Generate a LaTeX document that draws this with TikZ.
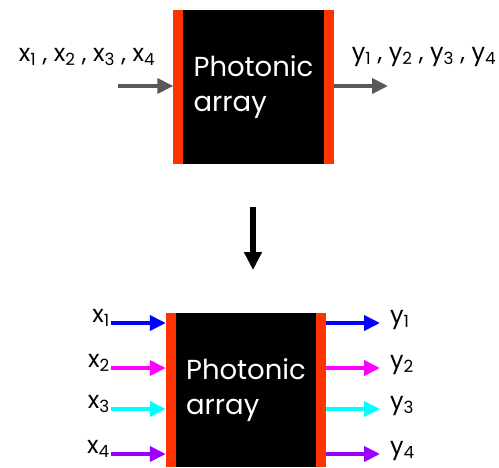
\documentclass[tikz,border=0pt]{standalone}
\usepackage{fontspec}
\setmainfont{Poppins}
\usetikzlibrary{arrows.meta}
\definecolor{barred}{RGB}{255,51,0}
\definecolor{arrowgray}{RGB}{89,89,89}
\definecolor{sigblue}{RGB}{0,0,255}
\definecolor{sigmagenta}{RGB}{255,0,255}
\definecolor{sigcyan}{RGB}{0,255,255}
\definecolor{sigpurple}{RGB}{153,0,255}
\begin{document}
\begin{tikzpicture}[x=1pt,y=-1pt,
    chip/.style={fill=black, text=white, minimum width=160pt, minimum height=154pt,
      inner sep=0pt, align=left, font=\fontsize{27.5}{35}\selectfont},
    sig/.style={line width=3.7pt, -{Triangle[length=16pt,width=15pt]}},
    lbl/.style={inner sep=0pt, font=\fontsize{24}{28}\selectfont}]
    \useasboundingbox (0,0) rectangle (499,467);

    % Top: one bundle in, one bundle out
    \node[chip] (topchip) at (253.5,87) {Photonic\\array};
    \fill[barred] (topchip.north west) rectangle ([xshift=10pt]topchip.south west);
    \fill[barred] ([xshift=-10pt]topchip.north east) rectangle (topchip.south east);
    \coordinate (topin) at (118,86);
    \coordinate (topout) at (388,86);
    \draw[sig, arrowgray] (topin) -- (topin -| topchip.west);
    \draw[sig, arrowgray] (topin -| topchip.east) -- (topout);
    \node[lbl] (topx) at (87,57) {x\textsubscript{1} , x\textsubscript{2} , x\textsubscript{3} , x\textsubscript{4}};
    \node[lbl] (topy) at (424,57) {y\textsubscript{1} , y\textsubscript{2} , y\textsubscript{3} , y\textsubscript{4}};

    % Down arrow
    \coordinate (downtop) at (253,207);
    \coordinate (downbot) at (253,270);
    \draw[line width=6pt, -{Triangle[length=18pt,width=17pt]}] (downtop) -- (downbot);

    % Bottom: one line per signal
    \node[chip] (botchip) at (246,390) {Photonic\\array};
    \fill[barred] (botchip.north west) rectangle ([xshift=10pt]botchip.south west);
    \fill[barred] ([xshift=-10pt]botchip.north east) rectangle (botchip.south east);
    \foreach \i/\yy/\col in {1/323/sigblue, 2/368/sigmagenta, 3/409/sigcyan, 4/454/sigpurple} {
      \coordinate (in\i) at (111,\yy);
      \coordinate (out\i) at (380,\yy);
      \draw[sig, \col] (in\i) -- (in\i -| botchip.west);
      \draw[sig, \col] (in\i -| botchip.east) -- (out\i);
      \node[lbl, anchor=east] (xin\i) at ([xshift=-1pt,yshift=5pt]in\i) {x\textsubscript{\i}};
      \node[lbl, anchor=west] (yout\i) at ([xshift=10pt,yshift=3pt]out\i) {y\textsubscript{\i}};
    }
\end{tikzpicture}
\end{document}
